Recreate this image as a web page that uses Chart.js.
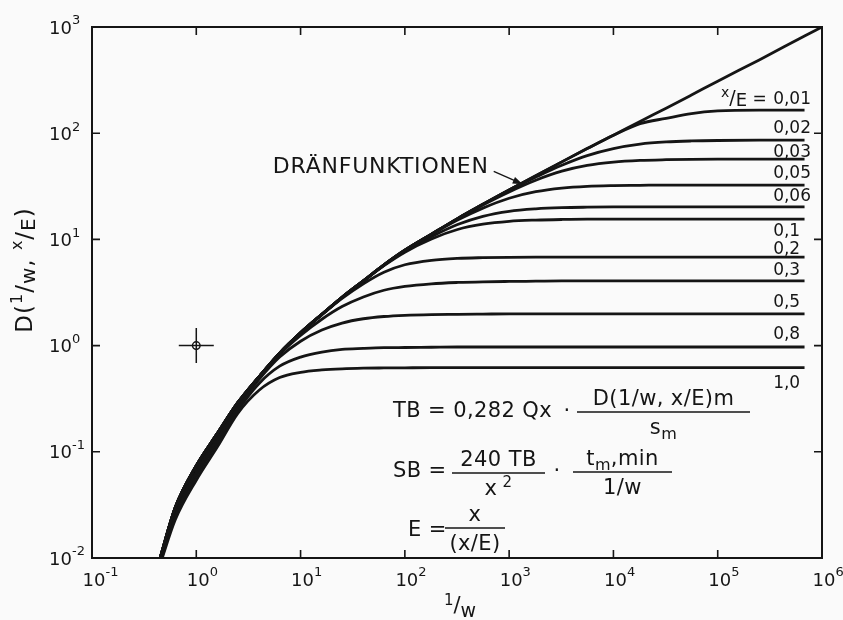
<!DOCTYPE html>
<html>
<head>
<meta charset="utf-8">
<script src="https://cdn.jsdelivr.net/npm/chart.js@4/dist/chart.umd.min.js"></script>
<style>
  html, body { margin: 0; padding: 0; background: #fafafa; }
  #wrap { width: 843px; height: 620px; position: relative; }
</style>
</head>
<body>
<div id="wrap"><canvas id="chart"></canvas></div>
<script>
// Abszisse 1/w (Stützstellen)
const oneOverW = [0.45, 0.63, 1, 1.6, 2.5, 4, 6.3, 10, 16, 25, 40, 63, 100, 180, 320, 560,
                  1000, 1800, 3200, 5600, 1e4, 1.8e4, 3.2e4, 5.6e4, 1e5, 2.5e5, 6.8e5, 1e6];

// Dränfunktion (Hüllkurve)
const dEnvelope = [0.010, 0.030, 0.074, 0.15, 0.29, 0.51, 0.85, 1.32, 1.97, 2.85, 4.07, 5.75, 7.9, 11.2,
                   15.7, 21.4, 29.2, 39.8, 53.7, 71.6, 95.5, 129, 172, 229, 309, 490, 822, 1000];

// D(1/w, x/E) für die einzelnen x/E
const dXE001 = [0.010, 0.030, 0.074, 0.15, 0.29, 0.51, 0.85, 1.32, 1.97, 2.85, 4.07, 5.75, 7.9, 11.2,
                15.7, 21.4, 29.2, 39.8, 53.7, 71.6, 95.5, 123, 138, 153, 162, 165, 165, null];
const dXE002 = [0.010, 0.030, 0.074, 0.15, 0.29, 0.51, 0.85, 1.32, 1.97, 2.85, 4.07, 5.75, 7.9, 11.2,
                15.7, 21.4, 29.2, 38.6, 49.9, 61.5, 71.6, 78.9, 82.7, 84.5, 85.4, 86, 86, null];
const dXE003 = [0.010, 0.030, 0.074, 0.15, 0.29, 0.51, 0.85, 1.32, 1.97, 2.85, 4.07, 5.75, 7.9, 11.2,
                15.7, 21.1, 28.0, 36.1, 43.9, 49.7, 53.4, 55.4, 56.3, 56.8, 57, 57, 57, null];
const dXE005 = [0.010, 0.030, 0.074, 0.15, 0.29, 0.51, 0.85, 1.32, 1.97, 2.85, 4.07, 5.75, 7.9, 11.1,
                15.2, 19.7, 24.4, 28.1, 30.4, 31.6, 32.1, 32.3, 32.5, 32.5, 32.5, 32.5, 32.5, null];
const dXE006 = [0.010, 0.030, 0.074, 0.15, 0.29, 0.51, 0.85, 1.32, 1.97, 2.85, 4.06, 5.71, 7.75, 10.6,
                13.8, 16.5, 18.4, 19.4, 19.9, 20.1, 20.2, 20.2, 20.2, 20.2, 20.2, 20.2, 20.2, null];
const dXE01  = [0.0099, 0.0295, 0.073, 0.148, 0.29, 0.51, 0.85, 1.32, 1.97, 2.84, 4.05, 5.66, 7.58, 10.1,
                12.4, 13.9, 14.8, 15.2, 15.4, 15.5, 15.5, 15.5, 15.5, 15.5, 15.5, 15.5, 15.5, null];
const dXE02  = [0.0097, 0.029, 0.071, 0.145, 0.285, 0.51, 0.85, 1.32, 1.95, 2.78, 3.82, 4.91, 5.77, 6.36,
                6.63, 6.73, 6.78, 6.8, 6.8, 6.8, 6.8, 6.8, 6.8, 6.8, 6.8, 6.8, 6.8, null];
const dXE03  = [0.0095, 0.028, 0.068, 0.139, 0.277, 0.50, 0.83, 1.25, 1.77, 2.33, 2.87, 3.32, 3.61, 3.82,
                3.93, 3.99, 4.02, 4.04, 4.06, 4.06, 4.06, 4.06, 4.06, 4.06, 4.06, 4.06, 4.06, null];
const dXE05  = [0.0093, 0.0265, 0.064, 0.131, 0.262, 0.48, 0.78, 1.10, 1.40, 1.63, 1.79, 1.88, 1.93, 1.96,
                1.97, 1.98, 1.99, 1.99, 1.99, 1.99, 1.99, 1.99, 1.99, 1.99, 1.99, 1.99, 1.99, null];
const dXE08  = [0.0090, 0.025, 0.059, 0.122, 0.245, 0.44, 0.64, 0.78, 0.87, 0.92, 0.94, 0.955, 0.96, 0.965,
                0.97, 0.97, 0.97, 0.97, 0.97, 0.97, 0.97, 0.97, 0.97, 0.97, 0.97, 0.97, 0.97, null];
const dXE10  = [0.0087, 0.023, 0.054, 0.112, 0.23, 0.38, 0.50, 0.56, 0.59, 0.605, 0.613, 0.616, 0.618, 0.62,
                0.62, 0.62, 0.62, 0.62, 0.62, 0.62, 0.62, 0.62, 0.62, 0.62, 0.62, 0.62, 0.62, null];

const curveSeries = [dXE001, dXE002, dXE003, dXE005, dXE006, dXE01, dXE02, dXE03, dXE05, dXE08, dXE10];
const curveLabels = ['0,01', '0,02', '0,03', '0,05', '0,06', '0,1', '0,2', '0,3', '0,5', '0,8', '1,0'];

// Achsen: Dekaden (Exponenten)
const xDecades = [-1, 0, 1, 2, 3, 4, 5, 6];
const yDecades = [-2, -1, 0, 1, 2, 3];

// Einzelpunkt mit Kreuz bei (1, 1)
const markerPoint = [{x: 1, y: 1}];

// Pfeilspitze "Dränfunktionen" (auf der Hüllkurve)
const arrowTip = {x: 1350, y: 33};

// --- Darstellung ---
const INK = '#151515';
const FONT = '"DejaVu Sans", "Liberation Sans", sans-serif';
// Versatz der Kurvenbeschriftung zur Kurve (px), positive Werte = unterhalb
const labelOffsets = [-11, -12, -7, -11, -10, 12, -8, -10, -11, -12, 16];

function toPoints(values) {
	return oneOverW.map(function (x, i) { return {x: x, y: values[i]}; });
}

function richWidth(ctx, parts) {
	let w = 0;
	parts.forEach(function (p) {
		ctx.font = p.size + 'px ' + FONT;
		w += ctx.measureText(p.t).width;
	});
	return w;
}

function drawRich(ctx, parts, x, y, align) {
	const w = richWidth(ctx, parts);
	let cx = align === 'center' ? x - w / 2 : (align === 'right' ? x - w : x);
	ctx.textAlign = 'left';
	ctx.textBaseline = 'middle';
	parts.forEach(function (p) {
		ctx.font = p.size + 'px ' + FONT;
		ctx.fillText(p.t, cx, y + (p.dy || 0));
		cx += ctx.measureText(p.t).width;
	});
	return w;
}

function hLine(ctx, x0, x1, y) {
	ctx.beginPath();
	ctx.moveTo(x0, y);
	ctx.lineTo(x1, y);
	ctx.stroke();
}

function fraction(ctx, num, den, x0, x1, y) {
	hLine(ctx, x0, x1, y);
	drawRich(ctx, num, (x0 + x1) / 2, y - 12, 'center');
	drawRich(ctx, den, (x0 + x1) / 2, y + 17, 'center');
}

const decorations = {
	id: 'decorations',
	afterDatasetsDraw: function (chart) {
		const ctx = chart.ctx;
		const ca = chart.chartArea;
		const xs = chart.scales.x;
		const ys = chart.scales.y;
		ctx.save();
		ctx.strokeStyle = INK;
		ctx.fillStyle = INK;

		// Rahmen
		ctx.lineWidth = 2;
		ctx.strokeRect(ca.left, ca.top, ca.right - ca.left, ca.bottom - ca.top);

		// Teilstriche innen
		ctx.lineWidth = 1.6;
		xDecades.forEach(function (e) {
			const px = xs.getPixelForValue(Math.pow(10, e));
			if (px <= ca.left + 1 || px >= ca.right - 1) return;
			ctx.beginPath();
			ctx.moveTo(px, ca.bottom); ctx.lineTo(px, ca.bottom - 8);
			ctx.moveTo(px, ca.top); ctx.lineTo(px, ca.top + 8);
			ctx.stroke();
		});
		yDecades.forEach(function (e) {
			const py = ys.getPixelForValue(Math.pow(10, e));
			if (py <= ca.top + 1 || py >= ca.bottom - 1) return;
			ctx.beginPath();
			ctx.moveTo(ca.left, py); ctx.lineTo(ca.left + 8, py);
			ctx.moveTo(ca.right, py); ctx.lineTo(ca.right - 8, py);
			ctx.stroke();
		});

		// Achsenbeschriftung
		ctx.font = '18px ' + FONT;
		const w10 = ctx.measureText('10').width;
		xDecades.forEach(function (e) {
			const px = xs.getPixelForValue(Math.pow(10, e));
			drawRich(ctx, [{t: '10', size: 18}, {t: String(e), size: 13, dy: -8}], px + 2 - w10 / 2, ca.bottom + 23, 'left');
		});
		yDecades.forEach(function (e) {
			const py = ys.getPixelForValue(Math.pow(10, e));
			drawRich(ctx, [{t: '10', size: 18}, {t: String(e), size: 13, dy: -8}], ca.left - 20 - w10, py + 2, 'left');
		});

		// x-Achsentitel 1/w
		drawRich(ctx, [{t: '1', size: 15, dy: -6}, {t: '/', size: 21}, {t: 'w', size: 19, dy: 5}],
			(ca.left + ca.right) / 2 + 3, ca.bottom + 49, 'center');

		// y-Achsentitel D(1/w, x/E)
		ctx.save();
		ctx.translate(ca.left - 66, ca.top + 243);
		ctx.rotate(-Math.PI / 2);
		ctx.letterSpacing = '1px';
		drawRich(ctx, [
			{t: 'D(', size: 23}, {t: '1', size: 16, dy: -8}, {t: '/', size: 23}, {t: 'w', size: 20, dy: 4},
			{t: ', ', size: 23}, {t: 'x', size: 16, dy: -8}, {t: '/', size: 23}, {t: 'E', size: 20, dy: 4},
			{t: ')', size: 23}
		], 0, 0, 'center');
		ctx.letterSpacing = '0px';
		ctx.restore();

		// Kurvenbeschriftung x/E
		const lx = xs.getPixelForValue(3.4e5);
		curveSeries.forEach(function (vals, i) {
			const plateau = vals[vals.length - 2];
			const py = ys.getPixelForValue(plateau) + labelOffsets[i];
			drawRich(ctx, [{t: curveLabels[i], size: 17}], lx, py, 'left');
			if (i === 0) {
				drawRich(ctx, [{t: 'x', size: 14, dy: -6}, {t: '/', size: 19}, {t: 'E', size: 18, dy: 2}, {t: ' = ', size: 17}], lx - 1, py, 'right');
			}
		});

		// "DRÄNFUNKTIONEN" mit Pfeil
		const tx = xs.getPixelForValue(arrowTip.x);
		const ty = ys.getPixelForValue(arrowTip.y);
		ctx.letterSpacing = '0.8px';
		drawRich(ctx, [{t: 'DRÄNFUNKTIONEN', size: 22}], tx - 34, ty - 17, 'right');
		ctx.letterSpacing = '0px';
		ctx.lineWidth = 1.3;
		ctx.beginPath();
		ctx.moveTo(tx - 29, ty - 13);
		ctx.lineTo(tx - 4, ty - 2);
		ctx.stroke();
		const ang = Math.atan2(11, 25);
		ctx.beginPath();
		ctx.moveTo(tx, ty);
		ctx.lineTo(tx - 10 * Math.cos(ang) + 3.5 * Math.sin(ang), ty - 10 * Math.sin(ang) - 3.5 * Math.cos(ang));
		ctx.lineTo(tx - 10 * Math.cos(ang) - 3.5 * Math.sin(ang), ty - 10 * Math.sin(ang) + 3.5 * Math.cos(ang));
		ctx.closePath();
		ctx.fill();

		// Formeln
		const fx = ca.left + 301;
		const fy = ca.top + 385;
		ctx.lineWidth = 1.5;
		ctx.letterSpacing = '0.4px';
		drawRich(ctx, [{t: 'TB = 0,282 Qx', size: 21}], fx, fy, 'left');
		drawRich(ctx, [{t: '·', size: 21}], fx + 174, fy, 'center');
		fraction(ctx,
			[{t: 'D(1/w, x/E)m', size: 21}],
			[{t: 's', size: 21}, {t: 'm', size: 16, dy: 6}],
			fx + 184, fx + 357, fy);

		const fy2 = fy + 60;
		drawRich(ctx, [{t: 'SB =', size: 21}], fx, fy2, 'left');
		fraction(ctx,
			[{t: '240 TB', size: 21}],
			[{t: 'x', size: 21}, {t: ' 2', size: 15, dy: -7}],
			fx + 59, fx + 152, fy2 + 1);
		drawRich(ctx, [{t: '·', size: 21}], fx + 164, fy2, 'center');
		fraction(ctx,
			[{t: 't', size: 21}, {t: 'm', size: 16, dy: 6}, {t: ',min', size: 21}],
			[{t: '1/w', size: 21}],
			fx + 180, fx + 279, fy2);

		const fy3 = fy2 + 57;
		drawRich(ctx, [{t: 'E =', size: 21}], fx + 15, fy3 + 2, 'left');
		fraction(ctx,
			[{t: 'x', size: 21}],
			[{t: '(x/E)', size: 21}],
			fx + 52, fx + 112, fy3 - 1);
		ctx.letterSpacing = '0px';

		ctx.restore();
	}
};

const curveDatasets = curveSeries.map(function (vals, i) {
	return {
		label: 'x/E = ' + curveLabels[i],
		data: toPoints(vals),
		borderColor: INK,
		borderWidth: 2.8,
		pointRadius: 0,
		fill: false,
		cubicInterpolationMode: 'monotone',
		spanGaps: false
	};
});

new Chart(document.getElementById('chart'), {
	type: 'line',
	data: {
		datasets: [
			{
				label: 'Dränfunktionen',
				data: toPoints(dEnvelope),
				borderColor: INK,
				borderWidth: 2.8,
				pointRadius: 0,
				fill: false,
				cubicInterpolationMode: 'monotone'
			}
		].concat(curveDatasets).concat([
			{
				label: 'Kreuz',
				data: markerPoint,
				showLine: false,
				pointStyle: 'cross',
				pointRadius: 17.5,
				borderColor: INK,
				borderWidth: 1.5,
				clip: false
			},
			{
				label: 'Kreis',
				data: markerPoint,
				showLine: false,
				pointStyle: 'circle',
				pointRadius: 3.8,
				backgroundColor: '#ffffff',
				borderColor: INK,
				borderWidth: 1.5,
				clip: false
			}
		])
	},
	options: {
		responsive: true,
		maintainAspectRatio: false,
		animation: false,
		events: [],
		layout: {padding: {left: 92, right: 21, top: 27, bottom: 62}},
		plugins: {legend: {display: false}, tooltip: {enabled: false}},
		scales: {
			x: {type: 'logarithmic', min: 0.1, max: 1e6, display: false},
			y: {type: 'logarithmic', min: 0.01, max: 1000, display: false}
		}
	},
	plugins: [decorations]
});
</script>
</body>
</html>
